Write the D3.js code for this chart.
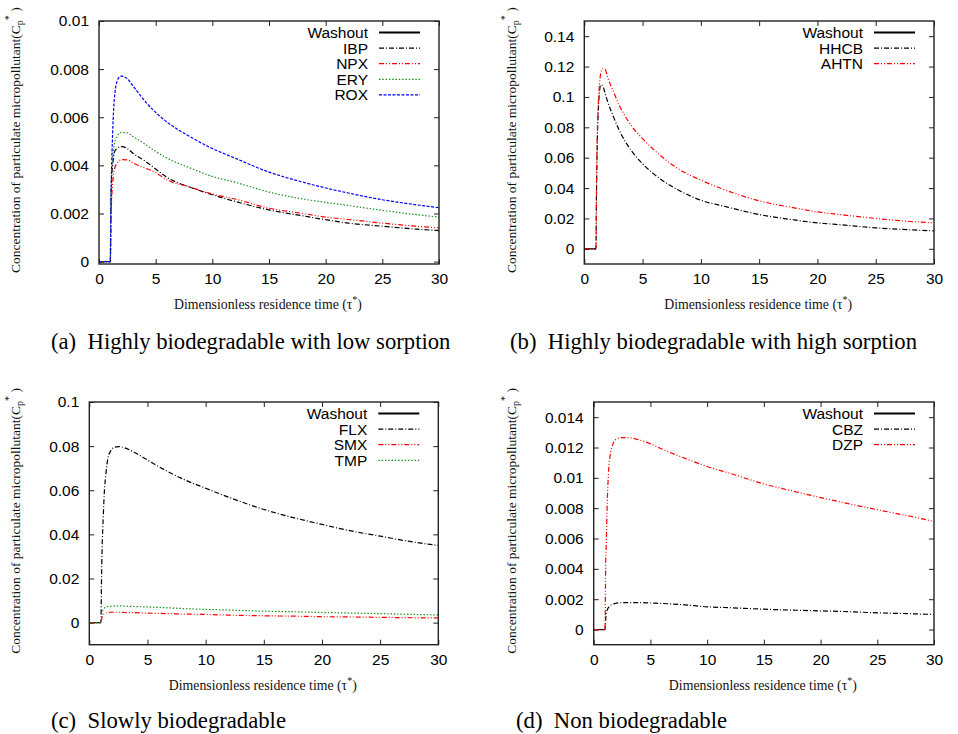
<!DOCTYPE html>
<html lang="en">
<head>
    <meta charset="UTF-8">
    <title>Particulate micropollutant concentration</title>
    <script src="https://d3js.org/d3.v7.min.js"></script>
    <style>
        body { margin: 0; background: #fff; }
        svg { display: block; }
    </style>
</head>
<body>
<script>
    /* ---------- data ---------- */
    let tau = [0, 1, 1.05, 1.1, 1.2, 1.3, 1.4, 1.6, 1.8, 2, 2.5, 3, 4, 5, 6, 8, 10, 12, 15, 18, 20, 22, 25, 28, 30];
    let washoutTau = [0, 1];
    let washoutVal = [0, 0];
    let xTicks = [0, 5, 10, 15, 20, 25, 30];

    // (a) highly biodegradable, low sorption
    let ibp = [0, 0, 0.0024, 0.0033, 0.0040, 0.0044, 0.0046, 0.0047, 0.00477, 0.00478, 0.0047, 0.0045, 0.0042, 0.00385, 0.0035, 0.0031, 0.00278, 0.0025, 0.00215, 0.0019, 0.00174, 0.0016, 0.00147, 0.00135, 0.00129];
    let npx = [0, 0, 0.0015, 0.0024, 0.0032, 0.0037, 0.0039, 0.0041, 0.0042, 0.00424, 0.00423, 0.0041, 0.0039, 0.0037, 0.0034, 0.0031, 0.00281, 0.0026, 0.00222, 0.002, 0.00185, 0.00175, 0.0016, 0.00147, 0.0014];
    let ery = [0, 0, 0.0025, 0.0035, 0.0043, 0.0047, 0.0050, 0.0052, 0.00533, 0.00537, 0.00535, 0.0052, 0.0049, 0.00458, 0.0043, 0.0039, 0.00354, 0.0033, 0.00289, 0.0026, 0.00246, 0.00233, 0.00213, 0.00195, 0.00185];
    let rox = [0, 0, 0.0022, 0.0036, 0.0053, 0.0064, 0.0070, 0.0075, 0.00767, 0.00771, 0.0076, 0.0073, 0.0067, 0.0062, 0.0058, 0.0052, 0.0047, 0.0043, 0.00372, 0.0033, 0.00306, 0.00285, 0.00257, 0.00236, 0.00224];
    let yTicksA = [0, 0.002, 0.004, 0.006, 0.008, 0.01];

    // (b) highly biodegradable, high sorption
    let hhcb = [0, 0, 0.04, 0.065, 0.091, 0.103, 0.108, 0.107, 0.102, 0.097, 0.087, 0.078, 0.065, 0.056, 0.049, 0.039, 0.032, 0.028, 0.0226, 0.019, 0.0171, 0.0158, 0.0138, 0.0125, 0.0118];
    let ahtn = [0, 0, 0.04, 0.07, 0.095, 0.108, 0.115, 0.1188, 0.118, 0.113, 0.1035, 0.0945, 0.0815, 0.0725, 0.065, 0.053, 0.0452, 0.039, 0.0316, 0.027, 0.0243, 0.0225, 0.02, 0.018, 0.0171];
    let yTicksB = [0, 0.02, 0.04, 0.06, 0.08, 0.1, 0.12, 0.14];

    // (c) slowly biodegradable
    let flx = [0, 0, 0.02, 0.033, 0.048, 0.060, 0.066, 0.0745, 0.0775, 0.079, 0.0798, 0.0793, 0.0768, 0.0737, 0.0706, 0.0652, 0.0609, 0.0568, 0.0513, 0.047, 0.0445, 0.0421, 0.0392, 0.0364, 0.035];
    let smx = [0, 0, 0.0015, 0.0025, 0.0035, 0.004, 0.0043, 0.0046, 0.0047, 0.0047, 0.0047, 0.0046, 0.0045, 0.0043, 0.0042, 0.0039, 0.0037, 0.0034, 0.0031, 0.0029, 0.0027, 0.0026, 0.0024, 0.0022, 0.0021];
    let tmp = [0, 0, 0.003, 0.0045, 0.006, 0.0066, 0.007, 0.0073, 0.0074, 0.0075, 0.0076, 0.0075, 0.0073, 0.0071, 0.0069, 0.0064, 0.006, 0.0057, 0.0052, 0.0049, 0.0046, 0.0044, 0.0041, 0.0037, 0.0035];
    let yTicksC = [0, 0.02, 0.04, 0.06, 0.08, 0.1];

    // (d) non biodegradable
    let cbz = [0, 0, 0.0006, 0.001, 0.0013, 0.00145, 0.00155, 0.00165, 0.0017, 0.00174, 0.00177, 0.00178, 0.00178, 0.00175, 0.00172, 0.00163, 0.0015, 0.00144, 0.00134, 0.00127, 0.00123, 0.00119, 0.0011, 0.00104, 0.00099];
    let dzp = [0, 0, 0.004, 0.0055, 0.0085, 0.0103, 0.0112, 0.012, 0.0124, 0.01255, 0.01265, 0.01265, 0.0125, 0.01224, 0.0119, 0.0113, 0.01075, 0.0103, 0.0096, 0.00905, 0.0087, 0.00837, 0.0079, 0.00745, 0.00712];
    let yTicksD = [0, 0.002, 0.004, 0.006, 0.008, 0.01, 0.012, 0.014];

    /* ---------- line styles (gnuplot-like) ---------- */
    let styles = {
        solid:   { color: "#000", dash: null },
        dashdot: { color: "#000", dash: "5,2,1,2" },
        red:     { color: "#ff0000", dash: "5,2,1,2,1,2" },
        green:   { color: "#1f8f1f", dash: "1.5,1.8" },
        blue:    { color: "#0000ff", dash: "3,1.5" }
    };

    let panels = [
        { left: 99, right: 439, top: 21, bottom: 264, yDomain: [-0.0001, 0.01], yTicks: yTicksA,
          caption: "(a)  Highly biodegradable with low sorption", capX: 51, capY: 349, yLabX: 20, xLabY: 309,
          series: [["Washout", washoutTau, washoutVal, "solid"], ["IBP", tau, ibp, "dashdot"], ["NPX", tau, npx, "red"],
                   ["ERY", tau, ery, "green"], ["ROX", tau, rox, "blue"]] },
        { left: 584.3, right: 934, top: 21, bottom: 264, yDomain: [-0.01, 0.15], yTicks: yTicksB,
          caption: "(b)  Highly biodegradable with high sorption", capX: 510, capY: 349, yLabX: 516, xLabY: 309,
          series: [["Washout", washoutTau, washoutVal, "solid"], ["HHCB", tau, hhcb, "dashdot"], ["AHTN", tau, ahtn, "red"]] },
        { left: 89.3, right: 438.3, top: 402, bottom: 644.7, yDomain: [-0.01, 0.1], yTicks: yTicksC,
          caption: "(c)  Slowly biodegradable", capX: 51, capY: 728, yLabX: 20, xLabY: 690,
          series: [["Washout", washoutTau, washoutVal, "solid"], ["FLX", tau, flx, "dashdot"], ["SMX", tau, smx, "red"],
                   ["TMP", tau, tmp, "green"]] },
        { left: 593.7, right: 934, top: 402, bottom: 644.7, yDomain: [-0.001, 0.015], yTicks: yTicksD,
          caption: "(d)  Non biodegradable", capX: 516, capY: 728, yLabX: 516, xLabY: 690,
          series: [["Washout", washoutTau, washoutVal, "solid"], ["CBZ", tau, cbz, "dashdot"], ["DZP", tau, dzp, "red"]] }
    ];

    let svg = d3.select("body")
                .append("svg")
                .attr("width", 958)
                .attr("height", 734);

    svg.append("rect").attr("width", 958).attr("height", 734).attr("fill", "#fff");

    let fmt = d => String(+d.toFixed(6));

    panels.forEach(p => {
        let x = d3.scaleLinear().domain([0, 30]).range([p.left, p.right]);
        let y = d3.scaleLinear().domain(p.yDomain).range([p.bottom, p.top]);
        let g = svg.append("g");

        // axes, ticks pointing inward on all four sides
        let axes = [
            [d3.axisBottom(x).tickValues(xTicks).tickFormat(fmt), p.bottom, "x"],
            [d3.axisTop(x).tickValues(xTicks).tickFormat(""), p.top, "x"],
            [d3.axisLeft(y).tickValues(p.yTicks).tickFormat(fmt), p.left, "y"],
            [d3.axisRight(y).tickValues(p.yTicks).tickFormat(""), p.right, "y"]
        ];
        axes.forEach(([ax, pos, dir]) => {
            let a = g.append("g")
                     .attr("transform", dir === "x" ? `translate(0,${pos})` : `translate(${pos},0)`)
                     .call(ax.tickSizeInner(-5).tickSizeOuter(0).tickPadding(dir === "x" ? 9 : 10));
            a.select(".domain").remove();
            a.selectAll("line").attr("stroke", "#222").attr("stroke-width", 1);
            a.selectAll("text")
             .attr("font-family", "'Liberation Sans', Arial, sans-serif")
             .attr("font-size", 15.5)
             .attr("fill", "#000");
        });

        // curves
        let line = d3.line()
                     .x(d => x(d[0]))
                     .y(d => y(d[1]))
                     .curve(d3.curveMonotoneX);

        p.series.forEach(([name, xs, ys, st]) => {
            let s = styles[st];
            g.append("path")
             .datum(xs.map((t, i) => [t, ys[i]]))
             .attr("d", line)
             .attr("fill", "none")
             .attr("stroke", s.color)
             .attr("stroke-width", 1.2)
             .attr("stroke-dasharray", s.dash);
        });

        // frame
        g.append("rect")
         .attr("x", p.left).attr("y", p.top)
         .attr("width", p.right - p.left).attr("height", p.bottom - p.top)
         .attr("fill", "none").attr("stroke", "#222").attr("stroke-width", 1.4);

        // legend
        p.series.forEach(([name, xs, ys, st], i) => {
            let s = styles[st];
            let ly = p.top + 11.5 + i * 15.6;
            g.append("text")
             .attr("x", p.right - 71)
             .attr("y", ly)
             .attr("dy", "0.36em")
             .attr("text-anchor", "end")
             .attr("font-family", "'Liberation Sans', Arial, sans-serif")
             .attr("font-size", 15.5)
             .text(name);
            g.append("line")
             .attr("x1", p.right - 60).attr("x2", p.right - 19)
             .attr("y1", ly).attr("y2", ly)
             .attr("stroke", s.color)
             .attr("stroke-width", st === "solid" ? 1.8 : 1.2)
             .attr("stroke-dasharray", s.dash);
        });

        // y label (rotated, serif)
        let yl = g.append("text")
                  .attr("transform", `translate(${p.yLabX},${p.bottom + 9}) rotate(-90)`)
                  .attr("font-family", "'Liberation Serif', 'Times New Roman', serif")
                  .attr("font-size", 13.5)
                  .attr("fill", "#111");
        yl.append("tspan").text("Concentration of particulate micropollutant(C");
        yl.append("tspan").attr("font-size", 10).attr("dy", 3).text("p");
        yl.append("tspan").attr("font-size", 10).attr("dy", -11).text("*");
        yl.append("tspan").attr("dy", 8).text(" )");

        // x label
        let xl = g.append("text")
                  .attr("x", (p.left + p.right) / 2 - 1)
                  .attr("y", p.xLabY)
                  .attr("text-anchor", "middle")
                  .attr("font-family", "'Liberation Serif', 'Times New Roman', serif")
                  .attr("font-size", 13.8)
                  .attr("fill", "#111");
        xl.append("tspan").text("Dimensionless residence time (\u03c4");
        xl.append("tspan").attr("font-size", 10).attr("dy", -6).text("*");
        xl.append("tspan").attr("dy", 6).text(")");

        // caption
        svg.append("text")
           .attr("x", p.capX)
           .attr("y", p.capY)
           .attr("font-family", "'Liberation Serif', 'Times New Roman', serif")
           .attr("font-size", 22.7)
           .style("white-space", "pre")
           .text(p.caption);
    });
</script>
</body>
</html>
